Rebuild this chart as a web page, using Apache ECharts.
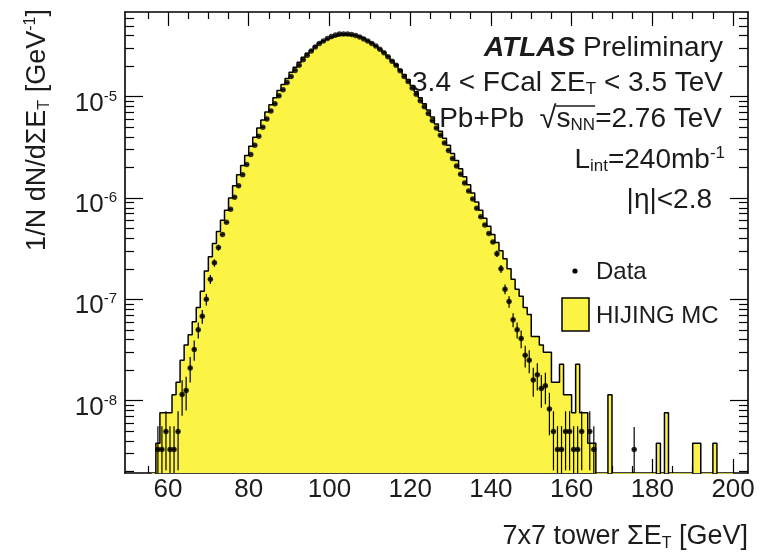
<!DOCTYPE html>
<html>
<head>
<meta charset="utf-8">
<script src="https://cdn.jsdelivr.net/npm/echarts@6/dist/echarts.min.js"></script>
<style>html,body{margin:0;padding:0;background:#fff}#chart{width:762px;height:552px}</style>
</head>
<body>
<div id="chart"></div>
<script>
// ---------------- data ----------------
// bin edges in GeV (1 GeV bins); values per bin are for [edge_i, edge_i+1]
const binEdges = [56,57,58,59,60,61,62,63,64,65,66,67,68,69,70,71,72,73,74,75,76,77,78,79,80,81,82,83,84,85,86,87,88,89,90,91,92,93,94,95,96,97,98,99,100,101,102,103,104,105,106,107,108,109,110,111,112,113,114,115,116,117,118,119,120,121,122,123,124,125,126,127,128,129,130,131,132,133,134,135,136,137,138,139,140,141,142,143,144,145,146,147,148,149,150,151,152,153,154,155,156,157,158,159,160,161,162,163,164,165,166,167,168,169,170,171,172,173,174,175,176,177,178,179,180,181,182,183,184,185,186,187,188,189,190,191,192,193,194,195,196,197,198,199,200];

// HIJING MC histogram, 1/N dN/dSumET [GeV^-1]
const mcValues = [
  0, 3.8e-9, 7.6e-9, 7.6e-9, 7.6e-9, 1.14e-8, 1.52e-8, 2.5e-8, 3.55e-8, 4.47e-8,
  6.0e-8, 8.3e-8, 1.2e-7, 1.9e-7, 2.63e-7, 3.55e-7, 4.68e-7, 6.03e-7, 7.59e-7, 1.0e-6,
  1.32e-6, 1.70e-6, 2.09e-6, 2.63e-6, 3.24e-6, 3.98e-6, 4.9e-6, 5.89e-6, 7.08e-6, 8.32e-6,
  9.77e-6, 1.15e-5, 1.32e-5, 1.51e-5, 1.74e-5, 1.95e-5, 2.19e-5, 2.45e-5, 2.69e-5, 2.88e-5,
  3.16e-5, 3.39e-5, 3.55e-5, 3.72e-5, 3.89e-5, 3.98e-5, 4.07e-5, 4.07e-5, 4.07e-5, 4.07e-5,
  3.98e-5, 3.89e-5, 3.72e-5, 3.55e-5, 3.39e-5, 3.16e-5, 2.95e-5, 2.75e-5, 2.51e-5, 2.29e-5,
  2.09e-5, 1.86e-5, 1.66e-5, 1.48e-5, 1.29e-5, 1.12e-5, 9.77e-6, 8.51e-6, 7.41e-6, 6.31e-6,
  5.37e-6, 4.57e-6, 3.89e-6, 3.31e-6, 2.75e-6, 2.34e-6, 1.95e-6, 1.62e-6, 1.35e-6, 1.12e-6,
  9.12e-7, 7.59e-7, 6.31e-7, 5.25e-7, 4.37e-7, 3.63e-7, 3.02e-7, 2.51e-7, 2.0e-7, 1.58e-7,
  1.26e-7, 1.07e-7, 8.3e-8, 7.1e-8, 4.3e-8, 4.3e-8, 3.55e-8, 3.0e-8, 3.0e-8, 1.52e-8,
  1.52e-8, 2.28e-8, 1.14e-8, 1.14e-8, 7.6e-9, 2.28e-8, 7.6e-9, 7.6e-9, 3.8e-9, 3.8e-9,
  0, 0, 0, 1.14e-8, 0, 0, 0, 0, 0, 0,
  0, 0, 0, 0, 0, 3.8e-9, 0, 7.6e-9, 0, 0,
  0, 0, 0, 0, 3.8e-9, 3.8e-9, 0, 0, 0, 3.8e-9,
  0, 0, 0, 0
];

// Data points
const dataValues = [
  0, 3.3e-9, 3.3e-9, 4.95e-9, 3.3e-9, 3.3e-9, 4.95e-9, 1.15e-8, 1.26e-8, 2.1e-8,
  3.2e-8, 5.0e-8, 6.8e-8, 1.0e-7, 1.58e-7, 2.29e-7, 3.24e-7, 4.37e-7, 5.75e-7, 7.76e-7,
  1.02e-6, 1.32e-6, 1.7e-6, 2.14e-6, 2.69e-6, 3.31e-6, 4.07e-6, 5.01e-6, 6.03e-6, 7.24e-6,
  8.51e-6, 1.02e-5, 1.17e-5, 1.38e-5, 1.58e-5, 1.82e-5, 2.04e-5, 2.32e-5, 2.57e-5, 2.82e-5,
  3.09e-5, 3.35e-5, 3.55e-5, 3.76e-5, 3.94e-5, 4.07e-5, 4.17e-5, 4.17e-5, 4.17e-5, 4.12e-5,
  4.03e-5, 3.89e-5, 3.72e-5, 3.55e-5, 3.35e-5, 3.16e-5, 2.95e-5, 2.72e-5, 2.48e-5, 2.24e-5,
  2.04e-5, 1.8e-5, 1.58e-5, 1.41e-5, 1.22e-5, 1.06e-5, 9.12e-6, 7.94e-6, 6.84e-6, 5.82e-6,
  4.9e-6, 4.17e-6, 3.5e-6, 2.95e-6, 2.45e-6, 2.07e-6, 1.72e-6, 1.41e-6, 1.17e-6, 9.77e-7,
  7.94e-7, 6.53e-7, 5.43e-7, 4.47e-7, 3.67e-7, 2.82e-7, 2.0e-7, 1.26e-7, 9.5e-8, 6.3e-8,
  5.0e-8, 4.1e-8, 2.8e-8, 2.5e-8, 1.6e-8, 1.8e-8, 1.32e-8, 1.4e-8, 8.25e-9, 4.95e-9,
  3.3e-9, 3.3e-9, 4.95e-9, 4.95e-9, 3.3e-9, 3.3e-9, 4.95e-9, 0, 4.95e-9, 3.3e-9,
  0, 0, 0, 0, 0, 0, 0, 0, 0, 3.3e-9,
  0, 0, 0, 0, 0, 0, 0, 0, 0, 0,
  0, 0, 0, 0, 0, 0, 0, 0, 0, 0,
  0, 0, 0, 0
];

// Statistical errors on the data points (0 = too small to see)
const dataErrors = [
  0, 2.3e-9, 2.3e-9, 2.9e-9, 2.3e-9, 2.3e-9, 2.9e-9, 4.4e-9, 4.6e-9, 5.9e-9,
  7.2e-9, 9.0e-9, 1.05e-8, 1.3e-8, 1.6e-8, 1.9e-8, 2.2e-8, 0, 0, 0,
  0, 0, 0, 0, 0, 0, 0, 0, 0, 0,
  0, 0, 0, 0, 0, 0, 0, 0, 0, 0,
  0, 0, 0, 0, 0, 0, 0, 0, 0, 0,
  0, 0, 0, 0, 0, 0, 0, 0, 0, 0,
  0, 0, 0, 0, 0, 0, 0, 0, 0, 0,
  0, 0, 0, 0, 0, 0, 0, 0, 0, 0,
  0, 0, 0, 0, 0, 2.1e-8, 1.8e-8, 1.4e-8, 1.25e-8, 1.0e-8,
  9.0e-9, 8.2e-9, 6.8e-9, 6.4e-9, 5.1e-9, 5.4e-9, 4.7e-9, 4.8e-9, 3.7e-9, 2.9e-9,
  2.3e-9, 2.3e-9, 2.9e-9, 2.9e-9, 2.3e-9, 2.3e-9, 2.9e-9, 0, 2.9e-9, 2.3e-9,
  0, 0, 0, 0, 0, 0, 0, 0, 0, 2.2e-9,
  0, 0, 0, 0, 0, 0, 0, 0, 0, 0,
  0, 0, 0, 0, 0, 0, 0, 0, 0, 0,
  0, 0, 0, 0
];

// tick positions / labels
const xMajorTicks = [60, 80, 100, 120, 140, 160, 180, 200];
const xMinorTicks = [55, 65, 70, 75, 85, 90, 95, 105, 110, 115, 125, 130, 135, 145, 150, 155, 165, 170, 175, 185, 190, 195];
const yMajorTicks = [1e-8, 1e-7, 1e-6, 1e-5];
const yMinorTicks = [2e-9, 3e-9, 4e-9, 5e-9, 6e-9, 7e-9, 8e-9, 9e-9,
  2e-8, 3e-8, 4e-8, 5e-8, 6e-8, 7e-8, 8e-8, 9e-8,
  2e-7, 3e-7, 4e-7, 5e-7, 6e-7, 7e-7, 8e-7, 9e-7,
  2e-6, 3e-6, 4e-6, 5e-6, 6e-6, 7e-6, 8e-6, 9e-6,
  2e-5, 3e-5, 4e-5, 5e-5, 6e-5];

// ---------------- layout / style ----------------
const X_MIN = 49.35, X_MAX = 203.7;
const Y_MIN = 1.93e-9, Y_MAX = 6.86e-5;
const EMPTY = 1e-12; // drawn below the frame (empty bin)
const FONT = '"Liberation Sans", Arial, Helvetica, sans-serif';
const TXT = '#1c1c1c';
const YELLOW = '#fcf444';
const ANN = 28;           // annotation font size

// MC outline/fill as a step line through bin edges
const mcPoints = binEdges.map((e, i) => {
  const v = i < mcValues.length ? mcValues[i] : mcValues[mcValues.length - 1];
  return [e, v > 0 ? v : EMPTY];
});

const dataPoints = [];
const errPoints = [];
dataValues.forEach((v, i) => {
  if (v > 0) {
    const c = (binEdges[i] + binEdges[i + 1]) / 2;
    dataPoints.push([c, v]);
    errPoints.push([c, v, dataErrors[i], binEdges[i], binEdges[i + 1]]);
  }
});

function xAx(pos, ticks, len, withLabel, withLine) {
  return {
    type: 'value', position: pos, min: X_MIN, max: X_MAX,
    axisLine: { show: withLine, onZero: false, lineStyle: { color: '#000', width: 1.6 } },
    axisTick: { show: true, inside: true, length: len, customValues: ticks, lineStyle: { color: '#000', width: 1.2 } },
    axisLabel: withLabel ? { show: true, customValues: ticks, margin: 4, fontSize: 26, fontFamily: FONT, color: TXT }
                         : { show: false },
    splitLine: { show: false }
  };
}
function yAx(pos, ticks, len, withLabel, withLine) {
  return {
    type: 'log', logBase: 10, position: pos, min: Y_MIN, max: Y_MAX,
    axisLine: { show: withLine, onZero: false, lineStyle: { color: '#000', width: 1.6 } },
    axisTick: { show: true, inside: true, length: len, customValues: ticks, lineStyle: { color: '#000', width: 1.2 } },
    axisLabel: withLabel ? {
      show: true, customValues: ticks, margin: 8, lineHeight: 40,
      formatter: function (v) { return '{b|10}{s|' + Math.round(Math.log10(v)) + '}'; },
      rich: {
        b: { fontSize: 26, fontFamily: FONT, color: TXT, lineHeight: 14, verticalAlign: 'bottom' },
        s: { fontSize: 15, fontFamily: FONT, color: TXT, lineHeight: 40, verticalAlign: 'middle' }
      }
    } : { show: false },
    splitLine: { show: false }
  };
}

const chart = echarts.init(document.getElementById('chart'), null, { renderer: 'canvas' });

const mainRich = (size) => ({
  n: { fontSize: size, fontFamily: FONT, fill: TXT, lineHeight: 30 },
  bi: { fontSize: size, fontFamily: FONT, fill: TXT, fontWeight: 'bold', fontStyle: 'italic', lineHeight: 30 },
  sq: { fontSize: size + 3, fontFamily: FONT, fill: TXT, lineHeight: 30 },
  sub: { fontSize: Math.round(size * 0.6), fontFamily: FONT, fill: TXT, lineHeight: 16, verticalAlign: 'bottom' },
  sup: { fontSize: Math.round(size * 0.6), fontFamily: FONT, fill: TXT, lineHeight: 16, verticalAlign: 'top' }
});

function label(x, y, text, size, align, extra) {
  return Object.assign({
    type: 'text', x: x, y: y, silent: true,
    style: { text: text, align: align, verticalAlign: 'middle', rich: mainRich(size), fill: TXT,
             font: size + 'px ' + FONT }
  }, extra || {});
}

// overline of the square root, placed from measured text widths
const mctx = document.createElement('canvas').getContext('2d');
function textW(str, size) { mctx.font = size + 'px ' + FONT; return mctx.measureText(str).width; }
const sqrtRight = 722 - textW('=2.76 TeV', ANN);
const sqrtLeft = sqrtRight - textW('NN', Math.round(ANN * 0.6)) - textW('s', ANN);

const option = {
  animation: false,
  backgroundColor: '#ffffff',
  grid: { left: 125, top: 12, right: 14, bottom: 79 },
  xAxis: [
    xAx('bottom', xMajorTicks, 14, true, true),
    xAx('bottom', xMinorTicks, 7, false, false),
    xAx('top', xMajorTicks, 14, false, true),
    xAx('top', xMinorTicks, 7, false, false)
  ],
  yAxis: [
    yAx('left', yMajorTicks, 18, true, true),
    yAx('left', yMinorTicks, 9, false, false),
    yAx('right', yMajorTicks, 18, false, true),
    yAx('right', yMinorTicks, 9, false, false)
  ],
  series: [
    {
      name: 'HIJING MC', type: 'line', step: 'end', symbol: 'none',
      xAxisIndex: 0, yAxisIndex: 0, clip: true, z: 1,
      data: mcPoints,
      lineStyle: { color: '#000', width: 1.5 },
      areaStyle: { color: YELLOW, opacity: 1, origin: 'start' }
    },
    {
      name: 'Data errors', type: 'custom', xAxisIndex: 0, yAxisIndex: 0, clip: true, z: 3,
      data: errPoints,
      renderItem: function (params, api) {
        const x = api.value(0), v = api.value(1), e = api.value(2);
        const lo = api.value(3), hi = api.value(4);
        const c = api.coord([x, v]);
        const top = api.coord([x, v + e]);
        const bot = api.coord([x, Math.max(v - e, EMPTY)]);
        const l = api.coord([lo, v]);
        const r = api.coord([hi, v]);
        const st = { stroke: '#000', lineWidth: 1.2 };
        return {
          type: 'group',
          children: [
            { type: 'line', shape: { x1: c[0], y1: top[1], x2: c[0], y2: bot[1] }, style: st },
            { type: 'line', shape: { x1: l[0], y1: c[1], x2: r[0], y2: c[1] }, style: st }
          ]
        };
      }
    },
    {
      name: 'Data', type: 'scatter', xAxisIndex: 0, yAxisIndex: 0, z: 4,
      symbol: 'circle', symbolSize: 5.5, data: dataPoints,
      itemStyle: { color: '#000' }
    }
  ],
  graphic: [
    label(723, 48, '{bi|ATLAS}{n| Preliminary}', ANN, 'right'),
    label(723, 83, '{n|3.4 < FCal ΣE}{sub|T}{n| < 3.5 TeV}', ANN, 'right'),
    label(722, 119, '{n|Pb+Pb  }{sq|√}{n|s}{sub|NN}{n|=2.76 TeV}', ANN, 'right'),
    { type: 'line', silent: true, shape: { x1: sqrtLeft - 1, y1: 106, x2: sqrtRight, y2: 106 }, style: { stroke: TXT, lineWidth: 1.3 } },
    label(725, 160, '{n|L}{sub|int}{n|=240mb}{sup|-1}', ANN, 'right'),
    label(712, 200, '{n||η|<2.8}', ANN, 'right'),
    { type: 'circle', silent: true, shape: { cx: 575, cy: 271, r: 2.6 }, style: { fill: '#000' } },
    label(596, 272, '{n|Data}', 24, 'left'),
    { type: 'rect', silent: true, shape: { x: 562, y: 298, width: 27, height: 33 }, style: { fill: YELLOW, stroke: '#000', lineWidth: 1.5 } },
    label(596, 316, '{n|HIJING MC}', 24, 'left'),
    label(748, 537, '{n|7x7 tower ΣE}{sub|T}{n| [GeV]}', 27, 'right'),
    label(38, 130, '{n|1/N dN/dΣE}{sub|T}{n| [GeV}{sup|-1}{n|]}', 27, 'center', { rotation: Math.PI / 2 })
  ]
};
chart.setOption(option);
</script>
</body>
</html>
